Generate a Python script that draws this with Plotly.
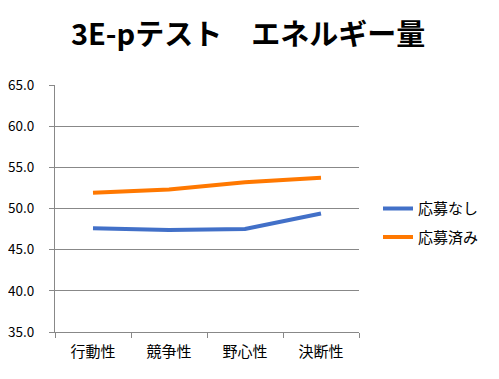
import plotly.graph_objects as go

categories = ["行動性", "競争性", "野心性", "決断性"]
series_names = ["応募なし", "応募済み"]
values_none = [47.6, 47.4, 47.5, 49.4]
values_done = [51.9, 52.3, 53.2, 53.75]
colors = ["#4270C8", "#FF7800"]
y_ticks = [35, 40, 45, 50, 55, 60, 65]
title_text = "3E-pテスト　エネルギー量"

font = "Noto Sans CJK JP, sans-serif"

fig = go.Figure()
for name, vals, col in zip(series_names, [values_none, values_done], colors):
    fig.add_trace(go.Scatter(x=categories, y=vals, mode="lines", name=name,
                             legendgroup=name,
                             line=dict(color=col, width=4)))

# page body has an 8px margin: figure is sized to fit the window
fig.update_layout(
    width=491, height=371,
    paper_bgcolor="white", plot_bgcolor="white",
    margin=dict(l=47, r=140, t=77, b=47, autoexpand=False),
    title=dict(text="<b>" + title_text + "</b>", x=0.489, xanchor="center",
               y=0.927, yanchor="middle",
               font=dict(family=font, size=29, color="black")),
    font=dict(family=font, size=13, color="black"),
    showlegend=True,
    legend=dict(x=1.0625, y=0.442, xanchor="left", yanchor="middle",
                font=dict(size=15), tracegroupgap=6,
                bgcolor="rgba(0,0,0,0)"),
    xaxis=dict(type="category", range=[-0.5, 3.5],
               showline=True, linecolor="#888888", linewidth=1,
               ticks="outside", tickson="boundaries", ticklen=5, tickcolor="#888888",
               showgrid=False, tickfont=dict(size=15), ticklabelstandoff=6),
    yaxis=dict(range=[35, 65], tickvals=y_ticks,
               ticktext=[f"{v:.1f}" for v in y_ticks],
               showline=True, linecolor="#888888", linewidth=1,
               ticks="outside", ticklen=5, tickcolor="#888888",
               showgrid=True, gridcolor="#888888", gridwidth=1,
               zeroline=False, tickfont=dict(size=13.5), ticklabelstandoff=12),
)

fig.write_html("out.html")
